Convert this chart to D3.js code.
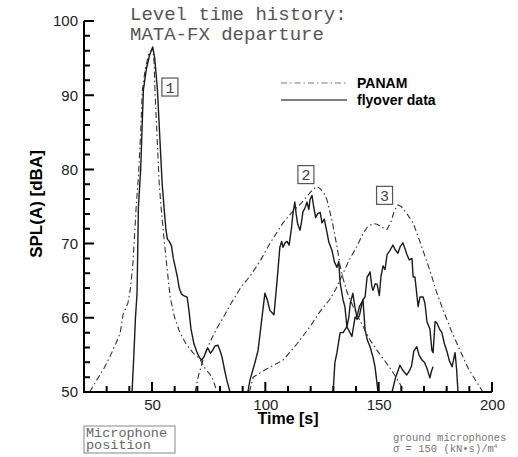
<!DOCTYPE html>
<html>
<head>
<meta charset="utf-8">
<script src="https://cdn.jsdelivr.net/npm/d3@7"></script>
<style>
  body { margin: 0; background: #fff; }
  .mono { font-family: "Liberation Mono", "Courier New", monospace; }
</style>
</head>
<body>
<div id="chart"></div>
<script>
// PANAM predictions, [time s, SPL(A) dBA]
var panam1 = [[22.5,50],[26,51.8],[29,53.3],[31.5,54.8],[34,56.5],[36,58],[37.2,60.4],[38,61],[39.4,62],
  [40.5,64],[41.5,67],[42.3,71],[43,74.9],[44,79],[45,85],[45.7,90.5],[47,93.5],[48.5,95.5],[50.3,96.3],
  [50.9,94.5],[51.3,90.7],[52.3,84],[53.2,78],[54,74.9],[55.2,71],[56.6,66.8],[58,62.8],[60,60],[62.3,58],
  [65,56.5],[68,55.3],[71,54.5],[73.4,53.2],[76.5,52],[78.7,50]];
var panam2 = [[69,50],[70.5,52.2],[72.5,54.3],[74.5,56],[76.5,57.3],[79,58.8],[81,59.8],[85,62],[89,64],
  [93.2,65.6],[97.6,67.6],[102,70],[107.8,72.8],[112,74.3],[116,75.5],[119,76.6],[121,77.3],[122.8,77.7],
  [124.5,77.3],[126,76.7],[127.2,75.9],[129.5,73],[131.6,69.6],[133,67],[134.3,65.3],[136,63.5],[139,61.3],
  [142,59.5],[146.2,57],[150,55.3],[153.7,53.8],[157,52.3],[159.4,51.1],[161,50]];
var panam3 = [[93,50],[94.6,52],[100,53],[107.8,54.3],[114,56.5],[119.7,58.8],[124,60.8],[128.5,62.5],
  [131,63.8],[134,65.8],[137,67.8],[140.4,69.6],[142.5,71],[144.9,72.2],[147.5,72.7],[149.3,72.6],
  [151.5,72.2],[153.7,71.9],[155.5,73],[157,74.5],[158.5,75.2],[160,75],[162.5,74],[165.2,72.8],
  [168.5,70],[172.6,66.4],[175.5,63.5],[178.5,61],[182,58.3],[185.9,55.6],[189.5,53.2],[193.3,51.3],[196,50]];

// measured flyover data, [time s, SPL(A) dBA]
var flyover1 = [[41.2,50],[42,55],[42.7,60],[43.4,63.3],[43.7,69],[44,74.9],[45,80],[46.2,90.7],[47.5,93.5],
  [49,95.5],[50.3,96.5],[51.2,95],[52.4,90.7],[53.5,84],[54.5,78],[55.3,74.9],[56.1,72],[56.8,70.6],
  [57.6,70.3],[58.6,69.7],[59.4,68],[60.5,66.5],[61.2,65.5],[62,64],[63,63.2],[64,63],[65.5,62.8],
  [66.3,61],[67.2,58.5],[68.5,56.5],[69.8,55.4],[71,54.6],[72,54.3],[73,54.8],[74,55.6],[74.7,55.9],
  [75.8,55.2],[76.9,55.7],[77.8,56.2],[79.1,56.3],[80,55.6],[80.9,54.7],[82,53],[83,51.6],[84.4,50]];
var flyover2 = [[92.3,50],[93.2,51.6],[95,53.5],[96.8,55.6],[98.5,60],[99.8,63.3],[100.8,62.5],[102,61],
  [103.8,60.4],[105.1,64.7],[106.4,69.5],[107.2,70.3],[107.8,69.5],[108.7,70.1],[109.6,70.3],[110.5,69.8],
  [111.5,72],[112.2,74.1],[113,75.6],[113.6,74],[114.3,72.6],[115.3,71.8],[116,73],[116.6,74.3],
  [117.5,74.8],[118.4,75.6],[119.2,74.6],[119.7,75.9],[120.6,76.5],[121.3,75],[122.2,73.5],[123,74],
  [124.2,74.2],[125,72.8],[126,73.3],[127.2,71.5],[128,70.2],[129.4,69.1],[130.5,67.5],[131.6,66.8],
  [132.4,67.6],[133,64.7],[134.3,62.4],[135.1,61.5],[136,58.8],[136.8,60],[137.5,62],[138.6,63.3],
  [139.5,61.5],[140.4,60.1],[141.5,61.5],[143.1,62.4],[144,58.4],[145,57],[146.2,56.1],[147.5,54.7],
  [148.4,53.4],[149.7,50]];
var flyover3 = [[129.9,50],[130.7,54],[131.6,55.3],[133,58],[134.3,58],[136,58.8],[137,58.2],[138.2,57.5],
  [139.6,60.1],[140.5,59.8],[141.5,60.3],[143,62.4],[144,62.8],[144.9,65.5],[145.6,65.8],[146.2,66.2],
  [147,64.2],[147.5,63.7],[148.5,64.6],[149.3,64.5],[150.3,63],[151,65.5],[151.9,67],[152.8,66.5],
  [153.7,68.5],[155,69.1],[156.3,69.8],[157.2,69.2],[158.5,68.7],[159.5,69.6],[160.7,70.1],[161.5,69.4],
  [162.5,68.5],[163.5,67.8],[164.7,68],[165.2,65.5],[166,65.5],[167.4,61.5],[168.2,62.8],[169.6,62.8],
  [170.4,62],[171.3,59.5],[172.6,58.5],[173.5,55.6],[174,55.3],[174.9,59.5],[175.7,59.3],[177,58.4],
  [177.9,58],[179,56.5],[180.1,55.5],[181.2,54.2],[182.4,53.4],[183.7,55.3],[184.4,53],[185,50]];
var flyover2tail = [[155.9,50],[157.5,52],[159.4,53.6],[160.5,53],[161.5,52.6],[162.4,52.3],[163.5,52.8],
  [164.5,53.5],[165.5,55.5],[166.8,56.1],[167.8,55],[169.1,54.3],[170.2,54],[171.3,53.2],[172.6,51.9],
  [173.3,52.8],[174,53.4]];

// microphone markers: label, time, SPL
var micLabels = ["1", "2", "3"];
var micT = [57.9, 117.9, 152.6];
var micL = [91.1, 79.3, 76.5];

var xTicks = [50, 100, 150, 200];
var yTicks = [50, 60, 70, 80, 90, 100];
var xMinorTicks = d3.range(30, 200, 10).filter(v => v % 50 !== 0);
var yMinorTicks = d3.range(52, 100, 2).filter(v => v % 10 !== 0);

var W = 518, H = 457;
var margin = { top: 21, right: 26, bottom: 65, left: 84 },
    width = W - margin.left - margin.right,
    height = H - margin.top - margin.bottom;

var svg = d3.select("#chart").append("svg")
    .attr("width", W).attr("height", H).style("display", "block");

var x = d3.scaleLinear().domain([20, 200]).range([margin.left, margin.left + width]);
var y = d3.scaleLinear().domain([50, 100]).range([margin.top + height, margin.top]);
var y0 = margin.top + height, x0 = margin.left;

// curves
var lineGen = d3.line().x(d => x(d[0])).y(d => y(d[1]));
var curves = svg.append("g");
[panam1, panam2, panam3].forEach(function (s) {
  curves.append("path").attr("d", lineGen(s))
    .attr("fill", "none").attr("stroke", "#333").attr("stroke-width", 1.1)
    .attr("stroke-dasharray", "6,3,1.5,3");
});
[flyover1, flyover2, flyover3, flyover2tail].forEach(function (s) {
  curves.append("path").attr("d", lineGen(s))
    .attr("fill", "none").attr("stroke", "#1a1a1a").attr("stroke-width", 1.4)
    .attr("stroke-linejoin", "round");
});

// tick labels from d3.axis
svg.append("g").attr("transform", "translate(" + x0 + ",0)")
  .call(d3.axisLeft(y).tickValues(yTicks).tickSize(0).tickPadding(6));
svg.append("g").attr("transform", "translate(0," + y0 + ")")
  .call(d3.axisBottom(x).tickValues(xTicks).tickSize(0).tickPadding(7));
svg.selectAll(".domain").remove();
svg.selectAll(".tick text")
  .style("font-family", "Liberation Sans, Arial, sans-serif")
  .style("font-size", "15px").attr("fill", "#222");

svg.append("text")
  .attr("transform", "translate(42,204) rotate(-90)")
  .attr("text-anchor", "middle")
  .style("font-family", "Liberation Sans, Arial, sans-serif")
  .style("font-weight", "bold").style("font-size", "17px")
  .text("SPL(A) [dBA]");

svg.append("text")
  .attr("x", 288).attr("y", 424)
  .attr("text-anchor", "middle")
  .style("font-family", "Liberation Sans, Arial, sans-serif")
  .style("font-weight", "bold").style("font-size", "16px")
  .text("Time [s]");

// title
var title = svg.append("text").attr("class", "mono")
  .style("font-size", "19px").attr("fill", "#555");
title.append("tspan").attr("x", 130).attr("y", 20).text("Level time history:");
title.append("tspan").attr("x", 130).attr("y", 40).text("MATA-FX departure");

// legend
var legend = svg.append("g");
legend.append("line").attr("x1", 281).attr("x2", 347).attr("y1", 83).attr("y2", 83)
  .attr("stroke", "#777").attr("stroke-width", 1.2).attr("stroke-dasharray", "6,3,1.5,3");
legend.append("line").attr("x1", 281).attr("x2", 347).attr("y1", 100).attr("y2", 100)
  .attr("stroke", "#555").attr("stroke-width", 1.3);
legend.selectAll("text").data(["PANAM", "flyover data"]).enter().append("text")
  .attr("x", 357).attr("y", (d, i) => 88 + i * 17)
  .style("font-family", "Liberation Sans, Arial, sans-serif")
  .style("font-weight", "bold").style("font-size", "14px")
  .text(d => d);

// microphone number boxes
var marks = svg.selectAll(".mic").data(micLabels).enter().append("g")
  .attr("transform", (d, i) => "translate(" + x(micT[i]) + "," + y(micL[i]) + ")");
marks.append("rect").attr("x", -8).attr("y", -9).attr("width", 16).attr("height", 18)
  .attr("fill", "none").attr("stroke", "#555").attr("stroke-width", 1.2);
marks.append("text").attr("class", "mono").attr("text-anchor", "middle").attr("y", 5.5)
  .style("font-size", "15px").attr("fill", "#444").text(d => d);

// microphone position box
svg.append("rect").attr("x", 84).attr("y", 426).attr("width", 91).attr("height", 27)
  .attr("fill", "none").attr("stroke", "#888").attr("stroke-width", 1);
var mp = svg.append("text").attr("class", "mono").style("font-size", "13.5px").attr("fill", "#666");
mp.append("tspan").attr("x", 86).attr("y", 437).text("Microphone");
mp.append("tspan").attr("x", 86).attr("y", 449).text("position");

// ground note
var gn = svg.append("text").attr("class", "mono").style("font-size", "10.5px").attr("fill", "#777");
gn.append("tspan").attr("x", 393).attr("y", 441).text("ground microphones");
gn.append("tspan").attr("x", 393).attr("y", 452).text("\u03c3 = 150 (kN\u2022s)/m");
gn.append("tspan").attr("dy", -4).style("font-size", "6px").text("4");

// axis frame and inward ticks, drawn last as one path from the scales
var p = d3.path();
yTicks.forEach(v => { p.moveTo(x0, y(v)); p.lineTo(x0 + 10, y(v)); });
yMinorTicks.forEach(v => { p.moveTo(x0, y(v)); p.lineTo(x0 + 6, y(v)); });
xTicks.forEach(v => { p.moveTo(x(v), y0); p.lineTo(x(v), y0 - 10); });
xMinorTicks.forEach(v => { p.moveTo(x(v), y0); p.lineTo(x(v), y0 - 6); });
p.moveTo(x0, y(100)); p.lineTo(x0, y0); p.lineTo(x(200), y0);
svg.append("path").attr("d", p.toString())
  .attr("fill", "none").attr("stroke", "#000").attr("stroke-width", 2);
</script>
</body>
</html>
